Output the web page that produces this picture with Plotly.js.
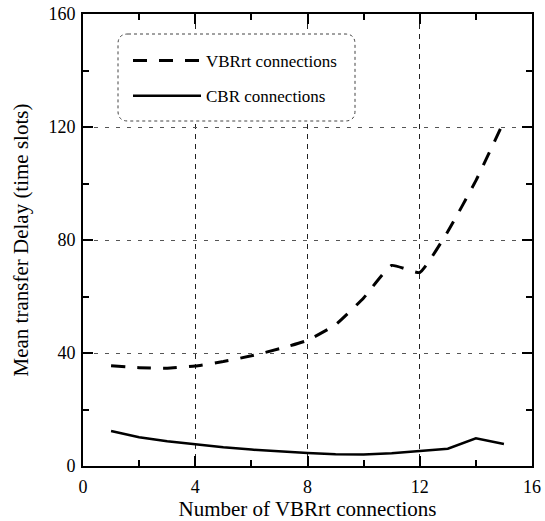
<!DOCTYPE html>
<html><head><meta charset="utf-8">
<script src="https://cdn.plot.ly/plotly-3.0.1.min.js"></script>
<style>html,body{margin:0;padding:0;background:#fff}#chart{width:545px;height:521px}</style>
</head><body><div id="chart"></div>
<script>
const connections = [1,2,3,4,5,6,7,8,9,10,11,12,13,14,15];
const vbrrtDelay = [35.5,34.8,34.6,35.4,37,39,41.5,44.5,50,59.5,71,68.5,83,101,122];
const cbrDelay = [12.4,10.2,8.8,7.6,6.6,5.8,5.1,4.6,4.2,4.1,4.5,5.3,6.1,9.8,7.8];
const xTicks = [0,4,8,12,16];
const yTicks = [0,40,80,120,160];

const W=545,H=521,L=83,R=13,T=14,B=55;
const pw=W-L-R, ph=H-T-B;
function px(x){return (x-L)/pw;}
function py(y){return (H-B-y)/ph;}
function roundRect(x0,y0,x1,y1,r){
  const rx=r/pw, ry=r/ph;
  const a=px(x0),b=px(x1),c=py(y0),d=py(y1);
  return `M${a+rx},${c} L${b-rx},${c} Q${b},${c} ${b},${c-ry} L${b},${d+ry} Q${b},${d} ${b-rx},${d} L${a+rx},${d} Q${a},${d} ${a},${d+ry} L${a},${c-ry} Q${a},${c} ${a+rx},${c} Z`;
}

const serif='"Liberation Serif","Times New Roman",serif';
const traces=[
 {x:connections,y:vbrrtDelay,type:'scatter',mode:'lines',name:'VBRrt connections',legendgroup:'a',
  line:{color:'#000',width:3,dash:'14px,12px',shape:'spline',smoothing:0.4}},
 {x:connections,y:cbrDelay,type:'scatter',mode:'lines',name:'CBR connections',legendgroup:'b',
  line:{color:'#000',width:2.5}}
];
const axisCommon={showline:true,linewidth:2,linecolor:'#000',mirror:'allticks',ticks:'inside',
  ticklen:10,tickwidth:2,tickcolor:'#000',zeroline:false,
  tickfont:{family:serif,size:18,color:'#000'}};
const layout={
 width:W,height:H,margin:{l:L,r:R,t:T,b:B},paper_bgcolor:'#fff',plot_bgcolor:'#fff',
 showlegend:true,
 legend:{x:px(128),y:py(43),xanchor:'left',yanchor:'top',bgcolor:'rgba(0,0,0,0)',borderwidth:0,
   font:{family:serif,size:17,color:'#000'},itemwidth:68,tracegroupgap:10,traceorder:'grouped'},
 xaxis:Object.assign({},axisCommon,{range:[0,16],tickvals:xTicks,ticklabelstandoff:3,
   showgrid:true,gridcolor:'#222',gridwidth:1,griddash:'5px,5px',
   minor:{dtick:2,ticks:'inside',ticklen:6,tickwidth:2,tickcolor:'#000',showgrid:false},
   title:{text:'Number of VBRrt connections',font:{family:serif,size:21,color:'#000'},standoff:3}}),
 yaxis:Object.assign({},axisCommon,{range:[0,160],tickvals:yTicks,ticklabelstandoff:2,
   showgrid:true,gridcolor:'#555',gridwidth:1,griddash:'4px,7px',
   minor:{dtick:20,ticks:'inside',ticklen:6,tickwidth:2,tickcolor:'#000',showgrid:false},
   title:{text:'Mean transfer Delay (time slots)',font:{family:serif,size:21,color:'#000'},standoff:14}}),
 shapes:[{type:'path',xref:'paper',yref:'paper',layer:'above',path:roundRect(118,34,355,121,10),
   fillcolor:'#fff',line:{color:'#444',width:1,dash:'dot'}}]
};
Plotly.newPlot('chart',traces,layout,{staticPlot:true});
</script></body></html>
